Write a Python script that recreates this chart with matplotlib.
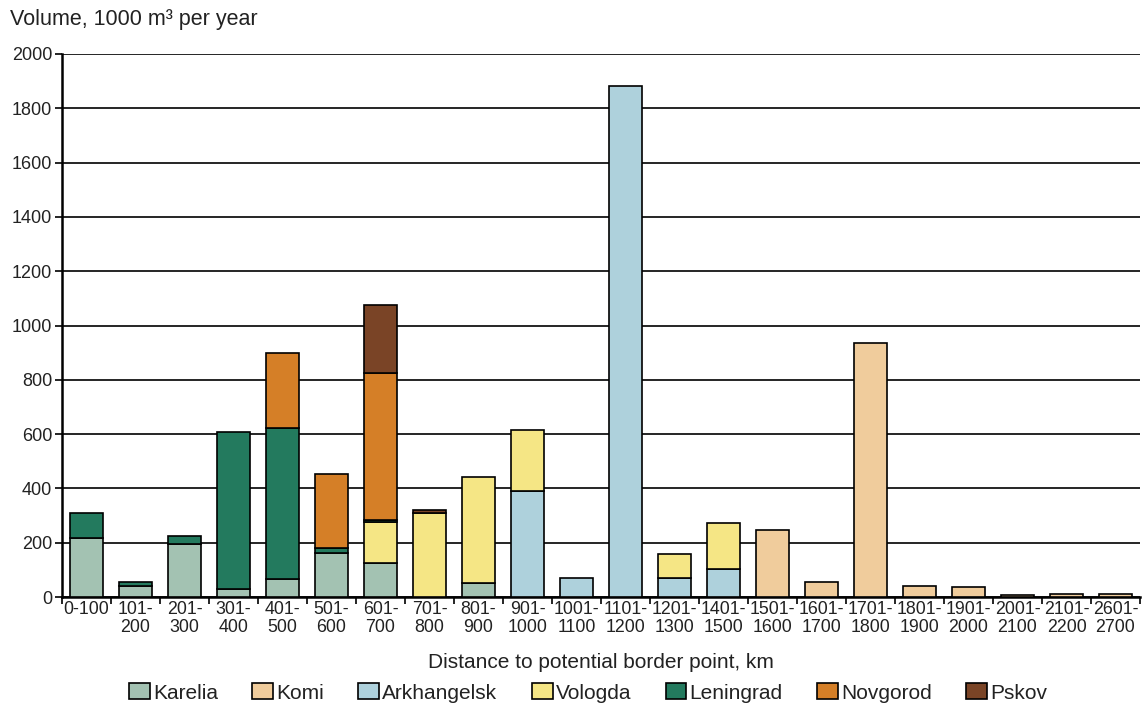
import numpy as np
import matplotlib.pyplot as plt
from matplotlib.patches import Patch

plt.rcParams['font.family'] = ['Liberation Sans', 'DejaVu Sans']

# distance bands, km
bands = ['0-100', '101-\n200', '201-\n300', '301-\n400', '401-\n500', '501-\n600',
         '601-\n700', '701-\n800', '801-\n900', '901-\n1000', '1001-\n1100',
         '1101-\n1200', '1201-\n1300', '1401-\n1500', '1501-\n1600', '1601-\n1700',
         '1701-\n1800', '1801-\n1900', '1901-\n2000', '2001-\n2100', '2101-\n2200',
         '2601-\n2700']

# volume by region, 1000 m3 per year
karelia     = [218, 40, 194, 31, 65, 161, 124, 0, 50, 0, 0, 0, 0, 0, 0, 0, 0, 0, 0, 0, 0, 0]
komi        = [0, 0, 0, 0, 0, 0, 0, 0, 0, 0, 0, 0, 0, 0, 246, 57, 935, 42, 37, 6, 10, 12]
arkhangelsk = [0, 0, 0, 0, 0, 0, 0, 0, 0, 390, 71, 1882, 71, 104, 0, 0, 0, 0, 0, 0, 0, 0]
vologda     = [0, 0, 0, 0, 0, 0, 153, 308, 391, 225, 0, 0, 86, 170, 0, 0, 0, 0, 0, 0, 0, 0]
leningrad   = [90, 16, 32, 575, 556, 21, 7, 0, 0, 0, 0, 0, 0, 0, 0, 0, 0, 0, 0, 0, 0, 0]
novgorod    = [0, 0, 0, 0, 279, 270, 542, 0, 0, 0, 0, 0, 0, 0, 0, 0, 0, 0, 0, 0, 0, 0]
pskov       = [0, 0, 0, 0, 0, 0, 248, 11, 0, 0, 0, 0, 0, 0, 0, 0, 0, 0, 0, 0, 0, 0]

regions = ['Karelia', 'Komi', 'Arkhangelsk', 'Vologda', 'Leningrad', 'Novgorod', 'Pskov']
series = [karelia, komi, arkhangelsk, vologda, leningrad, novgorod, pskov]
colors = ['#a3c2b2', '#f0cc9c', '#aed1dc', '#f5e685', '#237a5e', '#d57f27', '#7a4426']

fig = plt.figure(figsize=(11.46, 7.06), dpi=100)
ax = fig.add_axes([62 / 1146, 1 - 597 / 706, (1140 - 62) / 1146, (597 - 54) / 706])

x = np.arange(len(bands))
bottom = np.zeros(len(bands))
for vals, col in zip(series, colors):
    v = np.array(vals, dtype=float)
    mask = v > 0
    ax.bar(x[mask], v[mask], 0.66, bottom=bottom[mask], color=col,
           edgecolor='black', linewidth=1.2, zorder=3)
    bottom += v

ax.set_xlim(-0.5, len(bands) - 0.5)
ax.set_ylim(0, 2000)
ax.set_yticks(range(0, 2001, 200))
ax.yaxis.grid(True, color='black', linewidth=1.2, zorder=0)
ax.tick_params(axis='y', labelsize=13, length=5, width=1.2, direction='out', pad=2,
               labelcolor='#222222')

# ticks between bands, labels centred under bars
ax.set_xticks(np.arange(len(bands) + 1) - 0.5)
ax.set_xticklabels([])
ax.set_xticks(x, minor=True)
ax.set_xticklabels(bands, minor=True, fontsize=12.8, linespacing=1.05, color='#222222')
ax.tick_params(axis='x', which='major', length=5, width=1.2, direction='out')
ax.tick_params(axis='x', which='minor', length=0, pad=3)

for s in ['top', 'right']:
    ax.spines[s].set_visible(False)
for s in ['left', 'bottom']:
    ax.spines[s].set_linewidth(1.8)

fig.text(10 / 1146, 1 - 20 / 706, 'Volume, 1000 m\u00b3 per year', fontsize=15.5,
         va='center', color='#222222')
fig.text(0.5 * (62 + 1140) / 1146, 1 - 662 / 706, 'Distance to potential border point, km',
         fontsize=15, ha='center', va='center', color='#222222')

handles = [Patch(facecolor=c, edgecolor='black', linewidth=1.2, label=r)
           for r, c in zip(regions, colors)]
fig.legend(handles=handles, loc='center', bbox_to_anchor=(588 / 1146, 1 - 693 / 706),
           ncol=7, frameon=False, fontsize=15, handlelength=1.0, handleheight=0.8,
           handletextpad=0.15, columnspacing=1.65, labelcolor='#222222',
           borderpad=0, borderaxespad=0)

fig.savefig('out.png', dpi=100)
